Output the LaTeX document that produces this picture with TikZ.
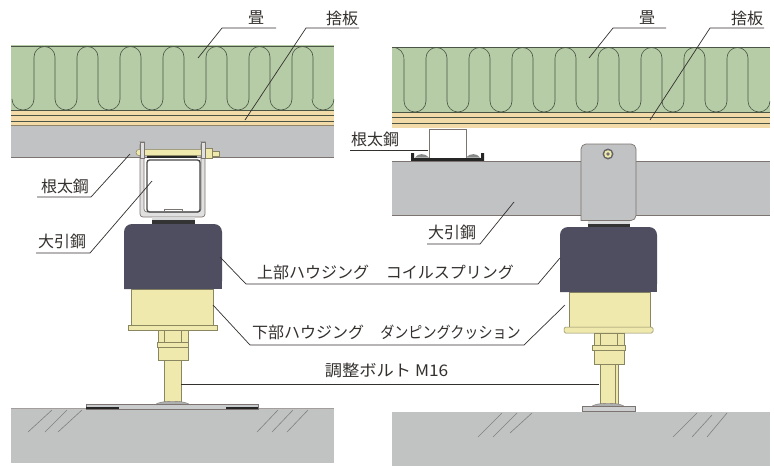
\documentclass[tikz,border=0pt]{standalone}
\usepackage{graphicx}
\usepackage{fontspec}
\setmainfont{Noto Sans CJK JP}
\definecolor{mat}{HTML}{B5CCA6}
\definecolor{matline}{HTML}{4A5545}
\definecolor{tan}{HTML}{F2DBA8}
\definecolor{steel}{HTML}{C0C2C3}
\definecolor{conc}{HTML}{C1C3C3}
\definecolor{edge}{HTML}{7C7470}
\definecolor{house}{HTML}{4F4E60}
\definecolor{yel}{HTML}{EFE9AE}
\definecolor{yelline}{HTML}{8A8660}
\definecolor{ink}{HTML}{33302E}
\tikzset{
  x=1pt,y=-1pt,
  lab/.style={inner sep=0pt,text=ink,font=\fontsize{16}{16}\selectfont},
  leader/.style={draw=ink,line width=0.7pt},
  part/.style={draw=yelline,line width=0.5pt,fill=yel},
  hatch/.style={draw=black!50,line width=0.6pt},
  layer/.style={draw=matline,line width=0.6pt},
  steelpart/.style={draw=edge,line width=0.7pt,fill=steel},
}
\begin{document}
\begin{tikzpicture}
\useasboundingbox (0,0) rectangle (774,466);
\fill[white] (0,0) rectangle (774,466);
%%% ---------- LEFT ----------
\fill[mat] (11,45) rectangle (334,110);
\fill[tan] (11,110) rectangle (334,126);
\begin{scope}
\clip (11,45) rectangle (334,110);
\foreach \a in {34,77,120,163,206,249,292}{
  \draw[layer] (\a,99) -- (\a,57) arc[start angle=180,end angle=360,radius=10.5] -- (\a+21,99);
  \draw[layer] (\a-22,99) arc[start angle=180,end angle=0,radius=11];
}
\draw[layer] (312,99) arc[start angle=180,end angle=0,radius=11];
\end{scope}
\draw[layer] (11,46) -- (334,46);
\draw[layer] (11,110) -- (334,110);
\draw[layer] (11,115.5) -- (334,115.5);
\draw[layer] (11,121.5) -- (334,121.5);
\draw[layer,draw=tan!60!black] (11,125.5) -- (334,125.5);
\fill[steel] (11,126) rectangle (334,157);
\draw[draw=edge,line width=0.7pt] (11,157) -- (334,157);
% bracket and main beam
\draw[steelpart,fill=black!12,rounded corners=3pt] (140,142) -- (140,217) -- (205,217) -- (205,142) -- (201,142) -- (201,212) -- (144,212) -- (144,142) -- cycle;
\fill[white] (148,161) rectangle (199,211);
\draw[draw=black!72,line width=1.3pt,rounded corners=2.5pt] (147,160) rectangle (200,212);
\fill[black!85] (147,155) rectangle (197,158);
\draw[draw=edge,line width=0.5pt] (164,212) -- (164,209) -- (182,209) -- (182,212);
\draw[part] (139,149.5) -- (204,149.5) -- (204,155.5) -- (139,155.5) arc[start angle=90,end angle=270,radius=3] -- cycle;
\draw[part] (204,148) rectangle (212,158);
\draw[part] (212,151) rectangle (219,156);
\draw[steelpart,fill=black!12] (140,142) rectangle (144,158);
\draw[steelpart,fill=black!12] (201,142) rectangle (205,158);
% housing
\fill[steel!60!white] (152,217) rectangle (195,220);
\fill[black!80] (152,220) rectangle (195,224);
\draw[part] (131,289) rectangle (213,325);
\draw[part] (128,325) rectangle (217,330);
\fill[house,rounded corners=8pt] (124,289) -- (124,224) -- (222,224) -- (222,289) [sharp corners] -- cycle;
\fill[house] (124,250) rectangle (222,289);
\draw[part] (158,330) rectangle (188,360);
\draw[yelline,line width=0.5pt] (164,330) -- (164,342) (181,330) -- (181,342);
\draw[part] (157,342) rectangle (188,347);
\draw[part] (164,360) rectangle (181,403);
\fill[conc] (11,408) rectangle (334,463);
\draw[draw=edge!70!white,line width=0.5pt] (11,408) -- (334,408);
\fill[steel!90!black,draw=edge,line width=0.4pt] (155,405) .. controls (158,400) and (187,400) .. (190,405) -- cycle;
\fill[steel!85!white,draw=edge,line width=0.5pt] (86,404) rectangle (258,409);
\fill[black!85] (86,407) rectangle (119,409);
\fill[black!85] (226,407) rectangle (258,409);
\foreach \p/\q in {28/52,45/67,58/82,257/278,272/293,287/308}
  \draw[hatch] (\p,432) -- (\q,410);
%%% ---------- RIGHT ----------
\fill[mat] (392,47) rectangle (770,112);
\fill[tan] (392,112) rectangle (770,128);
\begin{scope}
\clip (392,47) rectangle (770,112);
\draw[layer] (392,47) .. controls (400,48) and (404,52) .. (404,60) -- (404,101);
\foreach \a in {426,469,512,555,598,641,684,727}{
  \draw[layer] (\a,101) -- (\a,58) arc[start angle=180,end angle=360,radius=10.5] -- (\a+21,101);
  \draw[layer] (\a-22,101) arc[start angle=180,end angle=0,radius=11];
}
\draw[layer] (748,101) arc[start angle=180,end angle=0,radius=11];
\end{scope}
\draw[layer] (392,47.5) -- (770,47.5);
\draw[layer] (392,112) -- (770,112);
\draw[layer] (392,117) -- (770,117);
\draw[layer] (392,123) -- (770,123);
% joist section
\fill[white] (429,129) rectangle (466,160);
\draw[draw=edge,line width=0.8pt] (429,160) -- (429,129.5) -- (466,129.5) -- (466,160);
\fill[black!85] (411,153) -- (414,153) -- (414,158) -- (481,158) -- (481,153) -- (484,153) -- (484,161) -- (411,161) -- cycle;
\fill[steel!70!black] (415,157.5) .. controls (418,153) and (425,153) .. (429,157.5) -- cycle;
\fill[steel!70!black] (466,157.5) .. controls (470,153) and (477,153) .. (480,157.5) -- cycle;
% main beam
\fill[steel] (392,161) rectangle (770,215);
\draw[draw=edge,line width=0.7pt] (392,161) -- (770,161) (392,215.5) -- (770,215.5);
\fill[steel!60!white] (588,220) rectangle (630,224);
\fill[black!80] (588,224) rectangle (630,228);
\draw[steelpart,rounded corners=5pt] (581,220.5) -- (581,144) -- (636,144) -- (636,220.5) [sharp corners] -- cycle;
\fill[black!60] (608,154) circle[radius=5.5];
\fill[yel] (608,154) circle[radius=3.8];
\fill[black!55] (608,154) circle[radius=1.8];
\draw[part] (569,292) rectangle (650,328);
\draw[part,rounded corners=1.5pt] (564,327) rectangle (653,333);
\fill[house,rounded corners=8pt] (560,292) -- (560,227) -- (657,227) -- (657,292) [sharp corners] -- cycle;
\fill[house] (560,250) rectangle (657,292);
\draw[part] (594,333) rectangle (624,364);
\draw[yelline,line width=0.5pt] (600,333) -- (600,345) (617,333) -- (617,345);
\draw[part] (592,345) rectangle (625,350);
\draw[part] (600,364) rectangle (618,404);
\draw[yelline,line width=0.5pt] (615,364) -- (615,404);
\fill[conc] (392,412) rectangle (770,466);
\fill[steel!90!black,draw=edge,line width=0.4pt] (591,407) .. controls (594,402) and (622,402) .. (625,407) -- cycle;
\fill[steel!80!white,draw=edge,line width=0.6pt] (582,406.5) rectangle (635,411);
\foreach \p/\q/\r/\s in {478/502/437/413,493/517/437/413,510/532/433/413,673/697/437/413,692/712/437/415,707/727/437/413}
  \draw[hatch] (\p,\r) -- (\q,\s);
%%% ---------- LABELS ----------
\node[lab] (tatamiL) at (256,18) {畳};
\node[lab] (suteL) at (342,18) {捨板};
\node[lab] (netaL) at (65,186) {根太鋼};
\node[lab] (obikiL) at (62,241) {大引鋼};
\node[lab] (tatamiR) at (647,18) {畳};
\node[lab] (suteR) at (747,18) {捨板};
\node[lab] (netaR) at (375,139) {根太鋼};
\node[lab] (obikiR) at (452,232) {大引鋼};
\node[lab,anchor=west] (upper) at (257,272) {上部ハウジング};
\node[lab,anchor=east] (coil) at (514,272) {コイルスプリング};
\node[lab,anchor=west] (lower) at (252,332) {下部ハウジング};
\node[lab,anchor=east] (damp) at (521,332) {\scalebox{.88}[1]{ダンピングクッション}};
\node[lab] (bolt) at (386.5,370) {\scalebox{1.08}[1]{調整ボルト M16}};
%%% ---------- LEADERS ----------
\coordinate (a1) at (276,28); \coordinate (a2) at (222,28); \coordinate (a3) at (198,58);
\coordinate (b1) at (359,28); \coordinate (b2) at (306,28); \coordinate (b3) at (245,120);
\coordinate (c1) at (37,197); \coordinate (c2) at (91,197); \coordinate (c3) at (130,154);
\coordinate (d1) at (36,253); \coordinate (d2) at (90,253); \coordinate (d3) at (152,181);
\coordinate (e1) at (220,257); \coordinate (e2) at (246,284); \coordinate (e3) at (538,284); \coordinate (e4) at (560,258);
\coordinate (f1) at (213,305); \coordinate (f2) at (250,345); \coordinate (f3) at (524,345); \coordinate (f4) at (565,305);
\coordinate (g1) at (181,384); \coordinate (g2) at (599,384);
\coordinate (h1) at (666,28); \coordinate (h2) at (613,28); \coordinate (h3) at (589,58);
\coordinate (i1) at (764,28); \coordinate (i2) at (710,28); \coordinate (i3) at (650,120);
\coordinate (j1) at (350,150); \coordinate (j2) at (428,150);
\coordinate (k1) at (427,244); \coordinate (k2) at (480,244); \coordinate (k3) at (514,202);
\draw[leader] (a1) -- (a2) -- (a3);
\draw[leader] (b1) -- (b2) -- (b3);
\draw[leader] (c1) -- (c2) -- (c3);
\draw[leader] (d1) -- (d2) -- (d3);
\draw[leader] (e1) -- (e2) -- (e3) -- (e4);
\draw[leader] (f1) -- (f2) -- (f3) -- (f4);
\draw[leader] (g1) -- (g2);
\draw[leader] (h1) -- (h2) -- (h3);
\draw[leader] (i1) -- (i2) -- (i3);
\draw[leader] (j1) -- (j2);
\draw[leader] (k1) -- (k2) -- (k3);
\end{tikzpicture}
\end{document}
